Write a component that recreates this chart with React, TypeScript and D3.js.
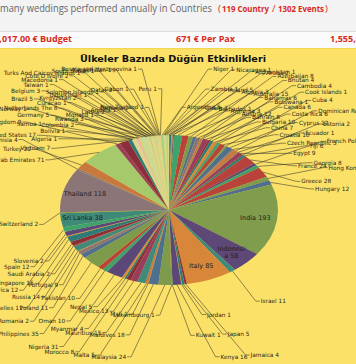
import React from "react";
import * as d3 from "d3";

const W = 356;
const H = 364;

// Alphabetical batch (A–H), clockwise from 12 o'clock
const countriesAH = [
  "Afghanistan", "Albania", "Armenia", "Aruba", "Australia", "Austria", "Azerbaijan", "Bahamas",
  "Bahrain", "Bhutan", "Botswana", "Bulgaria", "Cambodia", "Canada", "China", "Cook Islands",
  "Costa Rica", "Croatia", "Cuba", "Cyprus", "Czech Republic", "Dominican Republic", "Ecuador",
  "Egypt", "Estonia", "Fiji", "France", "French Polynesia", "Georgia", "Greece", "Hong Kong", "Hungary",
];
const valuesAH = [
  1, 3, 3, 2, 15, 12, 8, 6, 8, 4, 1, 10, 4, 6, 7, 1, 6, 10, 4, 12, 3, 10, 1, 9, 2, 6, 24, 6, 8, 28, 10, 12,
];

// Alphabetical batch (I–V)
const countriesIV = [
  "India", "Indonesia", "Israel", "Italy", "Jamaica", "Japan", "Jordan", "Kenya", "Kuwait", "Luxembourg",
  "Malaysia", "Maldives", "Mali", "Malta", "Mauritius", "Mexico", "Morocco", "Myanmar", "Nepal", "Nigeria",
  "Oman", "Pakistan", "Philippines", "Poland", "Portugal", "Romania", "Russia", "Saudi Arabia", "Seychelles",
  "Singapore", "Slovenia", "South Africa", "Spain", "Sri Lanka", "Switzerland", "Thailand", "Tunisia",
  "Turkey", "United Arab Emirates", "United Kingdom", "United States", "Vietnam",
];
const valuesIV = [
  193, 58, 11, 85, 4, 5, 1, 16, 1, 1, 24, 18, 1, 5, 15, 13, 8, 4, 5, 31, 10, 10, 35, 11, 9, 2, 14, 2, 11,
  15, 2, 12, 12, 38, 2, 118, 4, 22, 71, 9, 17, 7,
];

// Later-added countries (small counts), ending at 12 o'clock
const countriesExtra = [
  "Norway", "Samoa", "Algeria", "Brazil", "Germany", "Bolivia", "Belgium", "Netherlands The", "Colombia",
  "Taiwan", "Curacao", "Rwanda", "Macedonia", "Kyrgyzstan", "Monaco", "Cote D'Ivoire", "Uzbekistan",
  "Latvia", "Turks And Caicos Islands", "Solomon Islands", "Angola", "South Sudan", "Qatar", "Panama",
  "Kazakhstan", "Gabon", "New Zealand", "Bosnia and Herzegovina", "Peru", "Argentina", "Niger", "Zambia",
  "Guam", "Nicaragua", "Ireland", "Barbados",
];
const valuesExtra = [
  1, 1, 1, 5, 5, 1, 3, 8, 2, 1, 1, 3, 1, 2, 1, 2, 1, 2, 1, 1, 1, 1, 2, 2, 1, 1, 1, 1, 1, 5, 1, 1, 1, 1, 5, 1,
];

const insideLabelCountries = ["India", "Thailand", "Sri Lanka", "Indonesia", "Italy"];

const titleText = "Ülkeler Bazında Düğün Etkinlikleri";
const headerGray = "many weddings performed annually in Countries";
const countryCount = "119 Country";
const eventCount = "1302 Events";
const budgetText = "873,900,017.00 € Budget";
const perPaxText = "671 € Per Pax";
const thirdText = "1,555,425.00 € Per Event";

const darkPalette = [
  "#8c2d3b", "#2d7b78", "#d88a3c", "#5b4878", "#3ea26c", "#b9423a",
  "#7e9b4b", "#4f6f8f", "#8b7476", "#c9783e", "#3f8a7a", "#9a3d5c",
];
const lightPalette = [
  "#c9d78b", "#e6c89c", "#b7d38a", "#dcd59a", "#efb99d", "#a8cf80", "#d8cf86", "#c4dc9a",
];
const overrideColors: Record<string, string> = {
  India: "#7f9d4c",
  Thailand: "#8b7577",
  Indonesia: "#5d4877",
  Italy: "#d8863a",
  "Sri Lanka": "#3e8a78",
  "United Arab Emirates": "#a6c96b",
  France: "#b8413b",
};

type Item = { name: string; value: number; light: boolean; idx: number };

export default function App() {
  const items: Item[] = [];
  countriesAH.forEach((n, i) => items.push({ name: n, value: valuesAH[i], light: false, idx: items.length }));
  countriesIV.forEach((n, i) => items.push({ name: n, value: valuesIV[i], light: false, idx: items.length }));
  countriesExtra.forEach((n, i) => items.push({ name: n, value: valuesExtra[i], light: true, idx: i }));

  const cx = 169, cy = 210, rx = 109, ry = 75;
  const pie = d3.pie<Item>().sort(null).value((d) => d.value).startAngle(0).endAngle(2 * Math.PI);
  const arcs = pie(items);
  const arcGen = d3.arc<d3.PieArcDatum<Item>>().innerRadius(0).outerRadius(rx);

  const color = (d: Item) =>
    overrideColors[d.name] ||
    (d.light ? lightPalette[d.idx % lightPalette.length] : darkPalette[d.idx % darkPalette.length]);

  const edge = (a: number, k = 1) => [cx + rx * k * Math.sin(a), cy - ry * k * Math.cos(a)];
  // outer boundary (superellipse) for label placement
  const ocx = 172, ocy = 213, oa = 152, ob = 144, pw = 0.5;
  const outerPt = (a: number) => {
    const s = Math.sin(a), c = Math.cos(a);
    return [ocx + oa * Math.sign(s) * Math.pow(Math.abs(s), pw), ocy - ob * Math.sign(c) * Math.pow(Math.abs(c), pw)];
  };

  const inside = new Set(insideLabelCountries);
  const outer = arcs
    .filter((a) => !inside.has(a.data.name))
    .map((a) => ({ arc: a, mid: (a.startAngle + a.endAngle) / 2, ang: (a.startAngle + a.endAngle) / 2 }));
  const N = outer.length;
  const delta = ((2 * Math.PI) / N) * 0.86;
  for (let it = 0; it < 400; it++) {
    for (let i = 0; i < N; i++) {
      const a = outer[i];
      const b = outer[(i + 1) % N];
      let diff = b.ang - a.ang;
      if (i === N - 1) diff += 2 * Math.PI;
      if (diff < delta) {
        const p = (delta - diff) / 2;
        a.ang -= p;
        b.ang += p;
      }
    }
  }
  const levels = [1, 0.7, 0.42];
  const labels = outer.map((o, i) => {
    const t = levels[i % 3];
    const e = edge(o.ang);
    const op = outerPt(o.ang);
    const lx = e[0] + (op[0] - e[0]) * t;
    const ly = e[1] + (op[1] - e[1]) * t;
    const right = Math.sin(o.ang) >= 0;
    const src = edge(o.mid);
    return { o, lx, ly, right, src };
  });

  const fontLbl = "DejaVu Sans, Verdana, sans-serif";
  const hdr = "Open Sans, sans-serif";
  const red = "#d9291c";

  return (
    <svg width={W} height={H} style={{ position: "absolute", left: 0, top: 0 }}>
      <rect x={0} y={0} width={W} height={31} fill="#f3f3f3" />
      <line x1={0} x2={W} y1={31.5} y2={31.5} stroke="#dcdcdc" />
      <rect x={0} y={32} width={W} height={17} fill="#fbfbfb" />
      <rect x={0} y={48} width={W} height={H - 48} fill="#fbe168" />
      <line x1={0} x2={W} y1={48.5} y2={48.5} stroke="#f2d64e" />

      <text x={0} y={12} fontFamily={hdr} fontSize={10} fill="#666" textLength={212} lengthAdjust="spacingAndGlyphs">
        {headerGray}
      </text>
      <text x={218} y={12} fontFamily={hdr} fontSize={9.5} fill={red}>(</text>
      <text x={222} y={12} fontFamily={hdr} fontSize={9.5} fontWeight="bold" fill={red} textLength={47} lengthAdjust="spacingAndGlyphs">
        {countryCount}
      </text>
      <text x={272} y={12} fontFamily={hdr} fontSize={9.5} fill={red}>/</text>
      <text x={278} y={12} fontFamily={hdr} fontSize={9.5} fontWeight="bold" fill={red} textLength={46} lengthAdjust="spacingAndGlyphs">
        {eventCount}
      </text>
      <text x={325} y={12} fontFamily={hdr} fontSize={9.5} fill={red}>)</text>

      <text x={72} y={42} textAnchor="end" fontFamily={hdr} fontSize={9} fontWeight="bold" fill={red}>
        {budgetText}
      </text>
      <text x={176} y={42} fontFamily={hdr} fontSize={9} fontWeight="bold" fill={red}>
        {perPaxText}
      </text>
      <text x={330} y={42} fontFamily={hdr} fontSize={9} fontWeight="bold" fill={red}>
        {thirdText}
      </text>

      <g transform={`translate(${cx},${cy}) scale(1,${ry / rx})`}>
        {arcs.map((a, i) => (
          <path key={i} d={arcGen(a) || ""} fill={color(a.data)} />
        ))}
      </g>

      <g stroke="#33332a" strokeWidth={0.55} fill="none">
        {labels.map((l, i) => (
          <polyline
            key={i}
            points={`${l.src[0]},${l.src[1]} ${l.lx},${l.ly} ${l.lx + (l.right ? 4 : -4)},${l.ly}`}
          />
        ))}
      </g>
      <g fontFamily={fontLbl} fontSize={5.8} fill="#2a2a22">
        {labels.map((l, i) => (
          <text key={i} x={l.lx + (l.right ? 5 : -5)} y={l.ly + 2} textAnchor={l.right ? "start" : "end"}>
            {`${l.o.arc.data.name} ${l.o.arc.data.value}`}
          </text>
        ))}
      </g>
      <g fontFamily={fontLbl} fontSize={6.5} fill="#222" textAnchor="middle">
        {arcs
          .filter((a) => inside.has(a.data.name))
          .map((a, i) => {
            const mid = (a.startAngle + a.endAngle) / 2;
            const p = edge(mid, 0.8);
            const txt = `${a.data.name} ${a.data.value}`;
            const wrap = mid > Math.PI * 0.6 && mid < Math.PI * 0.9 && txt.length > 10;
            if (wrap) {
              return (
                <text key={i} x={p[0]} y={p[1]}>
                  <tspan x={p[0]} dy={-1}>{txt.slice(0, 8)}</tspan>
                  <tspan x={p[0]} dy={7}>{txt.slice(8)}</tspan>
                </text>
              );
            }
            return (
              <text key={i} x={p[0]} y={p[1] + 2}>
                {txt}
              </text>
            );
          })}
      </g>

      <text x={173} y={62} textAnchor="middle" fontFamily={fontLbl} fontSize={9.5} fontWeight="bold" fill="#111" textLength={186} lengthAdjust="spacingAndGlyphs">
        {titleText}
      </text>
    </svg>
  );
}
